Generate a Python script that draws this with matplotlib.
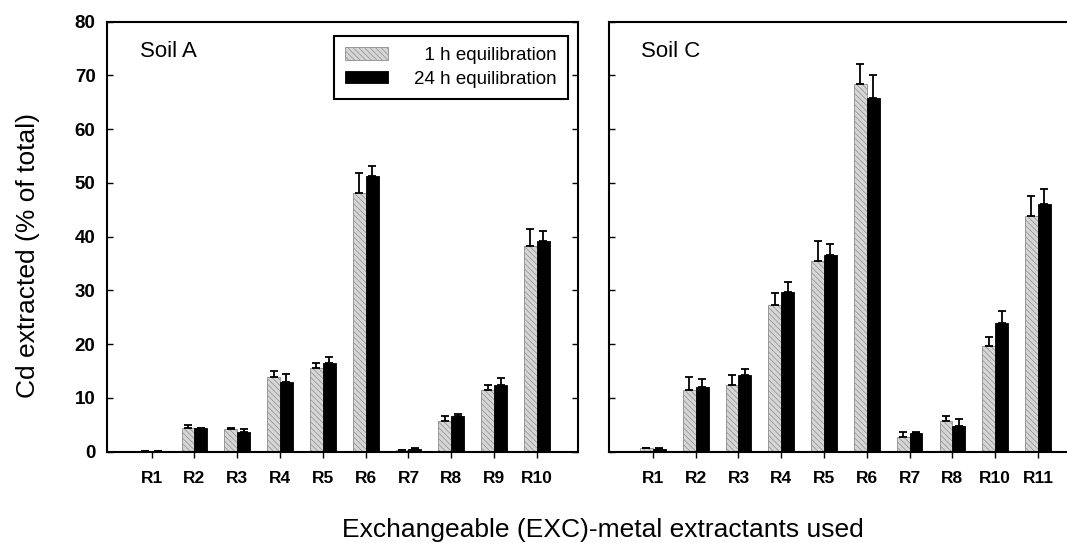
import numpy as np
import matplotlib
matplotlib.use("Agg")
import matplotlib.pyplot as plt

plt.rcParams['font.family'] = ['Liberation Sans', 'DejaVu Sans']
plt.rcParams['hatch.linewidth'] = 0.5

# Soil A
labels_a = ["R1", "R2", "R3", "R4", "R5", "R6", "R7", "R8", "R9", "R10"]
a_1h = [0.1, 4.3, 4.2, 13.9, 15.5, 48.2, 0.2, 5.7, 11.5, 38.3]
a_1h_sd = [0.0, 0.6, 0.2, 1.0, 1.0, 3.6, 0.0, 0.9, 0.9, 3.1]
a_24h = [0.1, 4.3, 3.6, 12.9, 16.5, 51.3, 0.5, 6.7, 12.3, 39.2]
a_24h_sd = [0.0, 0.1, 0.5, 1.5, 1.0, 1.9, 0.2, 0.3, 1.4, 1.9]

# Soil C
labels_c = ["R1", "R2", "R3", "R4", "R5", "R6", "R7", "R8", "R10", "R11"]
c_1h = [0.6, 11.5, 12.3, 27.2, 35.4, 68.5, 2.7, 5.7, 19.6, 43.9]
c_1h_sd = [0.1, 2.3, 1.9, 2.3, 3.8, 3.6, 0.9, 1.0, 1.7, 3.7]
c_24h = [0.5, 12.0, 14.3, 29.7, 36.5, 65.8, 3.5, 4.7, 24.0, 46.0]
c_24h_sd = [0.1, 1.5, 1.0, 1.8, 2.1, 4.2, 0.1, 1.4, 2.1, 2.8]

w = 0.3
gray_kw = dict(facecolor="#d6d6d6", edgecolor="#8c8c8c", hatch="\\\\\\\\\\\\", linewidth=0.6)
black_kw = dict(facecolor="black", edgecolor="black", linewidth=0.6)

fig = plt.figure(figsize=(10.67, 5.43), dpi=100)
ax1 = fig.add_axes([0.1, 0.1685, 0.4417, 0.7915])
ax2 = fig.add_axes([0.571, 0.1685, 0.429, 0.7915])


def draw(ax, labels, v1, s1, v24, s24, title):
    x = np.arange(len(labels))
    b1 = ax.bar(x - w / 2, v1, w, label="  1 h equilibration", **gray_kw)
    b2 = ax.bar(x + w / 2, v24, w, label="24 h equilibration", **black_kw)
    ax.errorbar(x - w / 2, v1, yerr=[np.zeros(len(x)), s1], fmt="none",
                ecolor="black", elinewidth=1.3, capsize=3, capthick=1.3)
    ax.errorbar(x + w / 2, v24, yerr=[np.zeros(len(x)), s24], fmt="none",
                ecolor="black", elinewidth=1.3, capsize=3, capthick=1.3)
    ax.set_ylim(0, 80)
    ax.set_yticks(np.arange(0, 81, 10))
    ax.set_xticks(x)
    ax.set_xticklabels(labels, fontsize=12.5, fontweight="bold")
    ax.tick_params(axis="x", direction="out", length=4, width=1, pad=10)
    ax.tick_params(axis="y", direction="in", length=4, width=1, right=True)
    for s in ax.spines.values():
        s.set_linewidth(1.5)
    ax.text(0.07, 0.955, title, transform=ax.transAxes, fontsize=16,
            va="top", ha="left")
    return b1, b2


draw(ax1, labels_a, a_1h, a_1h_sd, a_24h, a_24h_sd, "Soil A")
ax1.set_xlim(-1.05, 9.96)
for t in ax1.get_yticklabels():
    t.set_fontweight("bold")
    t.set_fontsize(13.5)
ax1.tick_params(axis="y", pad=8)
ax1.legend(loc="upper right", bbox_to_anchor=(0.979, 0.967), fontsize=13.5,
           frameon=True, fancybox=False, edgecolor="black", framealpha=1,
           handlelength=2.3, handleheight=0.65, borderaxespad=0,
           borderpad=0.6, labelspacing=0.35, handletextpad=1.4
           ).get_frame().set_linewidth(1.5)

draw(ax2, labels_c, c_1h, c_1h_sd, c_24h, c_24h_sd, "Soil C")
ax2.set_xlim(-1.02, 9.68)
ax2.set_yticklabels([])
ax2.spines["right"].set_visible(False)
ax2.tick_params(axis="y", right=False)

fig.text(0.026, 1 - 255 / 543, "Cd extracted (% of total)", rotation=90,
         ha="center", va="center", fontsize=19)
fig.text(0.565, 1 - 530 / 543, "Exchangeable (EXC)-metal extractants used",
         ha="center", va="center", fontsize=19)

fig.savefig("out.png", dpi=100)
